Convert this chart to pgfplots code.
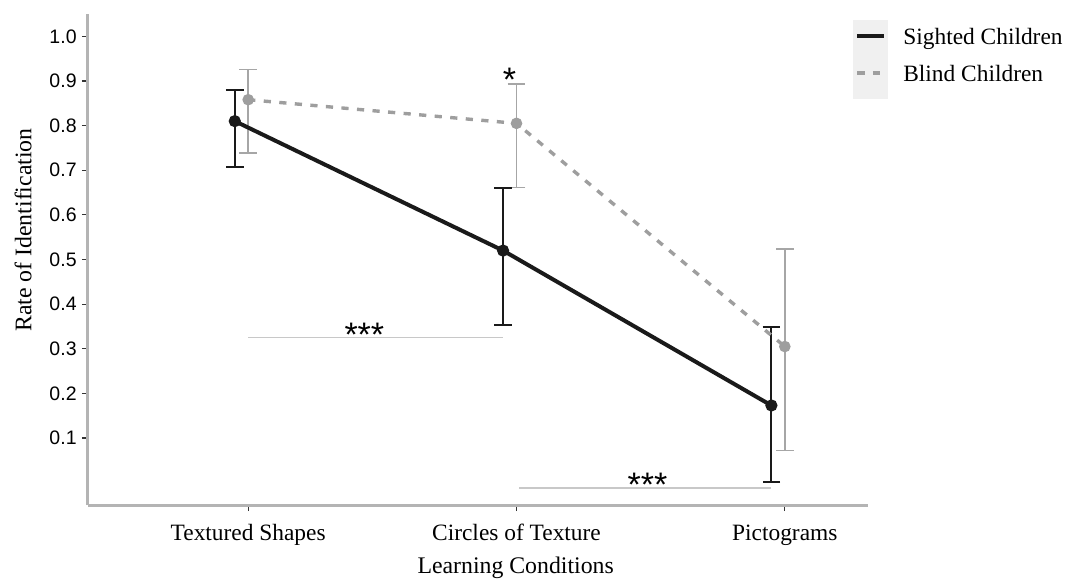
\documentclass[border=0pt]{standalone}
\usepackage{pgfplots}
\usepackage{pgfplotstable}
\pgfplotsset{compat=1.18}
\usepackage{fontspec}
\setmainfont{Liberation Serif}
\newfontfamily\sansf{Liberation Sans}
\definecolor{axisgray}{HTML}{B4B4B4}
\definecolor{tickgray}{HTML}{333333}
\definecolor{blk}{HTML}{1A1A1A}
\definecolor{lgray}{HTML}{9E9E9E}
\definecolor{ebgray}{HTML}{A6A6A6}
\definecolor{sigline}{HTML}{C8C8C8}
\definecolor{legbg}{HTML}{F0F0F0}
\pgfplotstableread{
x y ep em
0.95 0.810 0.069 0.102
1.95 0.520 0.140 0.167
2.95 0.173 0.176 0.172
}\sighted
\pgfplotstableread{
x y ep em
1 0.858 0.068 0.119
2 0.805 0.088 0.144
3 0.305 0.218 0.233
}\blind
\begin{document}
\begin{tikzpicture}
\begin{axis}[
  at={(0,0)}, anchor=south west,
  width=390pt, height=245.5pt, scale only axis,
  xmin=0.403, xmax=3.31, ymin=-0.05, ymax=1.05,
  axis x line*=bottom, axis y line*=left,
  axis line style={line width=1.5pt, color=axisgray, -},
  xtick={1,2,3},
  xticklabels={Textured Shapes, Circles of Texture, Pictograms},
  ytick={0.1,0.2,0.3,0.4,0.5,0.6,0.7,0.8,0.9,1.0},
  tick style={color=tickgray, line width=0.6pt},
  tick align=outside, major tick length=3pt,
  yticklabel style={font=\sansf\fontsize{9.75}{11}\selectfont, inner sep=2.5pt,
    /pgf/number format/.cd, fixed, fixed zerofill, precision=1, assume math mode=true},
  xticklabel style={font=\fontsize{11.7}{14}\selectfont, text height=8pt, text depth=2.5pt, inner sep=0pt, yshift=-6.5pt},
  ylabel={Rate of Identification},
  ylabel style={font=\fontsize{11.9}{14}\selectfont, at={(axis description cs:-0.0833,0.56)}, anchor=center},
  xlabel={Learning Conditions},
  xlabel style={font=\fontsize{11.9}{14}\selectfont, at={(axis description cs:0.5483,-0.1405)}, anchor=base},
  clip=false,
  legend image code/.code={\draw[#1] (0pt,1.5pt) -- (13.5pt,1.5pt);},
  legend style={at={(axis description cs:0.9756,0.9796)}, anchor=north west,
    draw=none, fill=none, font=\fontsize{11.7}{14}\selectfont,
    nodes={inner sep=0pt, text height=8pt, text depth=2.5pt},
    row sep=8pt,
    /tikz/every odd column/.append style={column sep=8.5pt}},
  legend cell align=left,
]
\fill[legbg] (axis description cs:0.9808,0.8269) rectangle (axis description cs:1.0256,0.9878);
% significance lines
\addplot[sigline, line width=0.6pt, forget plot] coordinates {(1,0.325) (1.95,0.325)};
\addplot[sigline, line width=0.6pt, forget plot] coordinates {(2.01,-0.012) (2.95,-0.012)};
% error bars: blind
\addplot[only marks, mark=none, forget plot,
  error bars/.cd, y dir=both, y explicit, error mark=-,
  error bar style={color=ebgray, line width=0.8pt},
  error mark options={rotate=90, color=ebgray, line width=0.8pt, mark size=4.4pt}]
  table[x=x, y=y, y error plus=ep, y error minus=em] {\blind};
% error bars: sighted
\addplot[only marks, mark=none, forget plot,
  error bars/.cd, y dir=both, y explicit, error mark=-,
  error bar style={color=blk, line width=1pt},
  error mark options={rotate=90, color=blk, line width=1pt, mark size=4.4pt}]
  table[x=x, y=y, y error plus=ep, y error minus=em] {\sighted};
\addplot[color=blk, line width=2pt, mark=*, mark size=2pt, mark options={solid, fill=blk}]
  table[x=x, y=y] {\sighted};
\addlegendentry{Sighted Children}
\addplot[color=lgray, line width=1.7pt, dash pattern=on 3.6pt off 4.2pt, mark=*, mark size=2pt, mark options={solid, fill=lgray, draw=lgray}]
  table[x=x, y=y] {\blind};
\addlegendentry{Blind Children}
\node[font=\sansf\fontsize{17}{19}\selectfont, anchor=base] at (axis cs:1.433,0.305) {***};
\node[font=\sansf\fontsize{17}{19}\selectfont, anchor=base] at (axis cs:2.488,-0.030) {***};
\node[font=\sansf\fontsize{17}{19}\selectfont, anchor=base] at (axis cs:1.974,0.876) {*};
\end{axis}
\pgfresetboundingbox
\path[use as bounding box] (-44pt,-37pt) rectangle (489pt,252.5pt);
\end{tikzpicture}
\end{document}
